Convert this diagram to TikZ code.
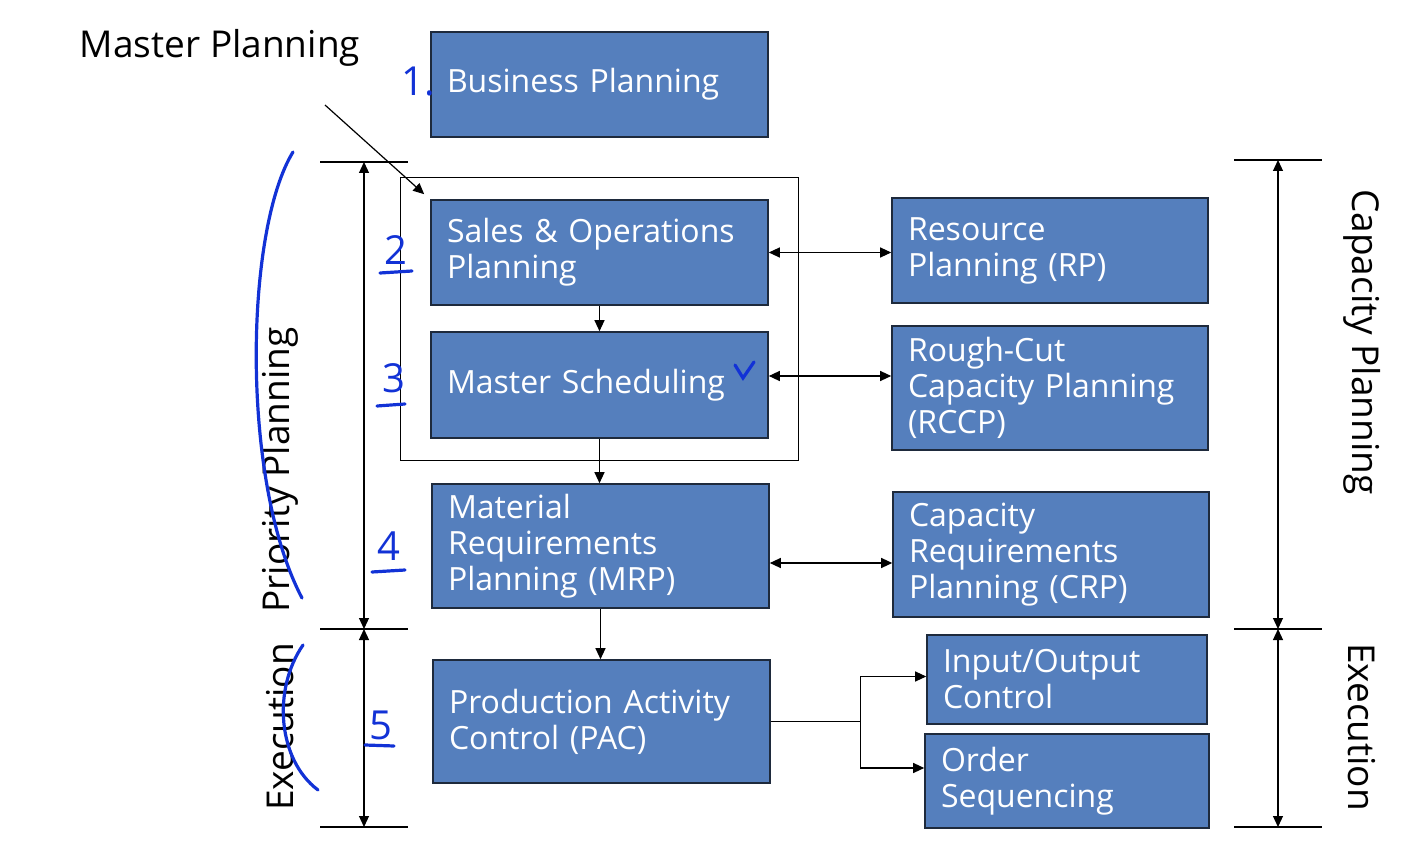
\documentclass[tikz,border=0pt]{standalone}
\usepackage{fontspec}
\setmainfont{Open Sans}
\usetikzlibrary{positioning,arrows.meta,calc,fit}
\definecolor{boxblue}{HTML}{557FBD}
\definecolor{boxline}{HTML}{1E2A3C}
\definecolor{inkblue}{HTML}{1232D6}
\newcommand{\boxfont}{\fontsize{16}{18}\selectfont\spaceskip=6pt plus 1.5pt\relax}
\tikzset{
  blk/.style={draw=boxline,fill=boxblue,text=white,align=left,inner xsep=8pt,
    font=\boxfont,line width=0.8pt},
  frame/.style={draw,line width=0.6pt},
  lbl/.style={font=\fontsize{18.5}{20}\selectfont},
  arr/.style={-{Triangle[length=5.5pt,width=5pt]},line width=0.6pt},
  darr/.style={{Triangle[length=5.5pt,width=5pt]}-{Triangle[length=5.5pt,width=5pt]},line width=0.6pt},
  tick/.style={line width=0.8pt},
  ink/.style={inkblue,line width=1.6pt,line cap=round},
  inktxt/.style={text=inkblue,font=\fontsize{20}{20}\selectfont},
}
\begin{document}
\begin{tikzpicture}[x=0.5pt,y=-0.5pt]
\useasboundingbox (0,0) rectangle (1420,845);

% left column
\node[blk, text width=152.5pt, minimum height=52.5pt] (bp) at (599.5,84.5) {Business Planning};
\node[blk, text width=152.5pt, minimum height=52.5pt] (sop) at (599.5,252.5) {Sales \& Operations\\Planning};
\node[blk, text width=152.5pt, minimum height=53pt] (ms) at (599.5,385) {Master Scheduling};
\node[blk, text width=152.5pt, minimum height=62pt] (mrp) at (600.5,546) {Material\\Requirements\\Planning (MRP)};
\node[blk, text width=152.5pt, minimum height=61.5pt] (pac) at (601.5,721.5) {Production Activity\\Control (PAC)};

% right column
\node[blk, text width=142pt, minimum height=52.5pt] (rp) at (1050,250.5) {Resource\\Planning (RP)};
\node[blk, text width=142pt, minimum height=62pt] (rccp) at (1050,388) {Rough-Cut\\Capacity Planning\\(RCCP)};
\node[blk, text width=142pt, minimum height=62.5pt] (crp) at (1051,554.5) {Capacity\\Requirements\\Planning (CRP)};
\node[blk, text width=124pt, minimum height=44.5pt] (ioc) at (1067,679.5) {Input/Output\\Control};
\node[blk, text width=126pt, minimum height=47pt] (os) at (1067,781) {Order\\Sequencing};

% master planning frame
\node[frame, fit=(sop)(ms), inner xsep=15pt, inner ysep=11pt] (mpbox) {};
\node[lbl] (mplab) at (220,48) {Master Planning};
\coordinate (mptail) at (325,105);
\draw[arr] (mptail) -- ([shift={(-6,-5)}]sop.north west);

% flow
\draw[arr] (sop) -- (ms);
\draw[arr] (ms.south) -- (ms.south |- mrp.north);
\draw[arr] (mrp.south) -- (mrp.south |- pac.north);
\draw[darr] (sop.east) -- (sop.east -| rp.west);
\draw[darr] ([yshift=4.5pt]ms.east) -- ([yshift=4.5pt]ms.east -| rccp.west);
\draw[darr] ([yshift=-8.5pt]mrp.east) -- ([yshift=-8.5pt]mrp.east -| crp.west);
\draw[line width=0.6pt] (pac.east) -- ++(45pt,0) coordinate (split);
\draw[arr] (split) |- ([yshift=1.5pt]ioc.west);
\draw[arr] (split) |- ([yshift=6.5pt]os.west);

% left scale
\coordinate (lt) at (364,162);
\coordinate (lm) at (364,629);
\coordinate (lb) at (364,827);
\foreach \c in {lt,lm,lb}
  \draw[tick] ([xshift=-22pt]\c) -- ([xshift=22pt]\c);
\draw[darr] (lt) -- (lm);
\draw[darr] (lm) -- (lb);
\node[lbl, rotate=90] (prio) at (280,470) {Priority Planning};
\node[lbl, rotate=90] (exl) at (280,727) {Execution};

% right scale
\coordinate (rt) at (1278,160);
\coordinate (rm) at (1278,629);
\coordinate (rb) at (1278,827);
\foreach \c in {rt,rm,rb}
  \draw[tick] ([xshift=-22pt]\c) -- ([xshift=22pt]\c);
\draw[darr] (rt) -- (rm);
\draw[darr] (rm) -- (rb);
\node[lbl, rotate=-90] (cap) at (1362,342) {Capacity Planning};
\node[lbl, rotate=-90] (exr) at (1362,727) {Execution};

% handwritten notes
\node[inktxt] (n1) at (418,82) {1.};
\node[inktxt] (n2) at (396,250) {2};
\node[inktxt] (n3) at (394,378) {3};
\node[inktxt] (n4) at (389,546) {4};
\node[inktxt] (n5) at (381,725) {5};
\draw[ink] (380,273) -- (412,271);
\draw[ink] (377,406) -- (405,404);
\draw[ink] (372,572) -- (405,570);
\draw[ink] (365,745) -- (394,746);
\draw[ink] (735,365) -- (743,378) -- (754,362);
\draw[ink] (293,152) .. controls (245,230) and (240,480) .. (302,598);
\draw[ink] (303,645) .. controls (272,690) and (278,760) .. (318,790);
\end{tikzpicture}
\end{document}
